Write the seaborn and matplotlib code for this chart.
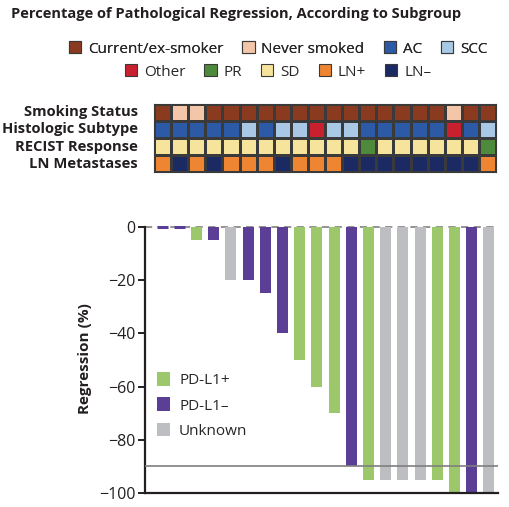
import numpy as np
import pandas as pd
import matplotlib
matplotlib.use("Agg")
import matplotlib.pyplot as plt
import seaborn as sns
from matplotlib.colors import ListedColormap
from matplotlib.patches import Patch

# categorias da faixa de anotacao e suas cores
categorias = ["Current/ex-smoker", "Never smoked", "AC", "SCC",
              "Other", "PR", "SD", "LN+", "LN\u2013"]
cores_cat = ["#8a3b1f", "#f3c6a9", "#2d5aa6", "#a9c8e6",
             "#c8202f", "#4d8a3b", "#f7e49c", "#ee8532", "#1b2a63"]

linhas = ["Smoking Status", "Histologic Subtype", "RECIST Response", "LN Metastases"]

C, N = "Current/ex-smoker", "Never smoked"
fumo = [C, N, N, C, C, C, C, C, C, C, C, C, C, C, C, C, C, N, C, C]
histologia = ["AC", "AC", "AC", "AC", "AC", "SCC", "AC", "SCC", "SCC", "Other",
              "SCC", "SCC", "AC", "AC", "AC", "AC", "AC", "Other", "AC", "SCC"]
recist = ["SD"] * 12 + ["PR"] + ["SD"] * 6 + ["PR"]
P, M = "LN+", "LN\u2013"
linfonodo = [P, M, P, M, P, P, P, M, P, P, P, M, M, M, M, M, M, M, M, P]

# regressao patologica (%) por paciente
regressao = [0, 0, -5, -5, -20, -20, -25, -40, -50, -60, -70, -90,
             -95, -95, -95, -95, -95, -100, -100, -100]
pdl1 = ["PD-L1\u2013", "PD-L1\u2013", "PD-L1+", "PD-L1\u2013", "Unknown",
        "PD-L1\u2013", "PD-L1\u2013", "PD-L1\u2013", "PD-L1+", "PD-L1+",
        "PD-L1+", "PD-L1\u2013", "PD-L1+", "Unknown", "Unknown", "Unknown",
        "PD-L1+", "PD-L1+", "PD-L1\u2013", "Unknown"]
grupos = ["PD-L1+", "PD-L1\u2013", "Unknown"]
cores_bar = ["#9dc76b", "#5b3f97", "#bdbec1"]
limiar = -90

sns.set_theme(style="white")
plt.rcParams["font.family"] = ["Open Sans", "DejaVu Sans"]

fig = plt.figure(figsize=(5.09, 5.07), dpi=100)
W, H = 509, 507

fig.text(11 / W, 1 - 14 / H, "Percentage of Pathological Regression, According to Subgroup",
         fontsize=10.5, fontweight="bold", color="#231f20", va="center", ha="left")

# legendas do topo (duas linhas)
hand = [Patch(facecolor=c, edgecolor="#3a3a3a", linewidth=0.8) for c in cores_cat]
leg1 = fig.legend(hand[:4], categorias[:4], loc="center", bbox_to_anchor=(278 / W, 1 - 49 / H),
                  ncol=4, frameon=False, fontsize=11, handlelength=0.8, handleheight=0.8,
                  handletextpad=0.45, columnspacing=1.25, borderpad=0)
fig.add_artist(leg1)
fig.legend(hand[4:], categorias[4:], loc="center", bbox_to_anchor=(278 / W, 1 - 72 / H),
           ncol=5, frameon=False, fontsize=11, handlelength=0.8, handleheight=0.8,
           handletextpad=0.45, columnspacing=1.25, borderpad=0)

# faixa de anotacao
ax_h = fig.add_axes([154 / W, 1 - 172 / H, (496 - 154) / W, 68 / H])
idx = {c: i for i, c in enumerate(categorias)}
matriz = pd.DataFrame([[idx[v] for v in fumo], [idx[v] for v in histologia],
                       [idx[v] for v in recist], [idx[v] for v in linfonodo]], index=linhas)
sns.heatmap(matriz, cmap=ListedColormap(cores_cat), vmin=-0.5, vmax=8.5, cbar=False,
            linewidths=0.8, linecolor="#3a3a3a", xticklabels=False, yticklabels=True, ax=ax_h)
ax_h.tick_params(left=False, bottom=False, pad=5.5)
for t in ax_h.get_yticklabels():
    t.set_rotation(0)
    t.set_fontweight("bold")
    t.set_fontsize(10.6)
    t.set_color("#231f20")
for s in ax_h.spines.values():
    s.set_visible(True)
    s.set_color("#3a3a3a")
    s.set_linewidth(0.8)

# grafico de barras
ax = fig.add_axes([145 / W, 1 - 493 / H, (498 - 145) / W, (493 - 224.3) / H])
df = pd.DataFrame({"paciente": range(len(regressao)), "regressao": regressao, "pdl1": pdl1})
sns.barplot(data=df, x="paciente", y="regressao", hue="pdl1", hue_order=grupos,
            palette=dict(zip(grupos, cores_bar)), dodge=False, width=0.64, saturation=1,
            legend=False, ax=ax, linewidth=0)
for p in ax.patches:
    if p.get_height() == 0:
        p.set_edgecolor(p.get_facecolor())
        p.set_linewidth(2.2)

ax.axhline(0, color="#8a8a8a", lw=1.3, ls=(0, (4, 3)), zorder=0)
ax.axhline(limiar, color="#7f7f7f", lw=1.2, zorder=3)
ax.set_xlim(-0.99, 19.53)
ax.set_ylim(-100, 1)
ax.set_yticks([0, -20, -40, -60, -80, -100])
ax.set_yticklabels(["0", "\u221220", "\u221240", "\u221260", "\u221280", "\u2212100"])
ax.set_xticks([])
ax.set_xlabel("")
ax.set_ylabel("Regression (%)", fontsize=11, fontweight="bold", color="#231f20", labelpad=5)
ax.tick_params(axis="y", left=True, length=5, width=1.4, color="#231f20",
               labelsize=11.5, labelcolor="#231f20", pad=2)
sns.despine(ax=ax, top=True, right=True)
ax.spines["left"].set_bounds(-100, 0)
for s in ["left", "bottom"]:
    ax.spines[s].set_color("#231f20")
    ax.spines[s].set_linewidth(1.6)

hb = [Patch(facecolor=c, edgecolor="none") for c in cores_bar]
ax.legend(hb, grupos, loc="upper left", bbox_to_anchor=(0.012, 0.478), frameon=False,
          fontsize=11, handlelength=0.85, handleheight=1.0, handletextpad=0.6,
          labelspacing=0.6, borderpad=0)

fig.savefig("out.png", dpi=100)
